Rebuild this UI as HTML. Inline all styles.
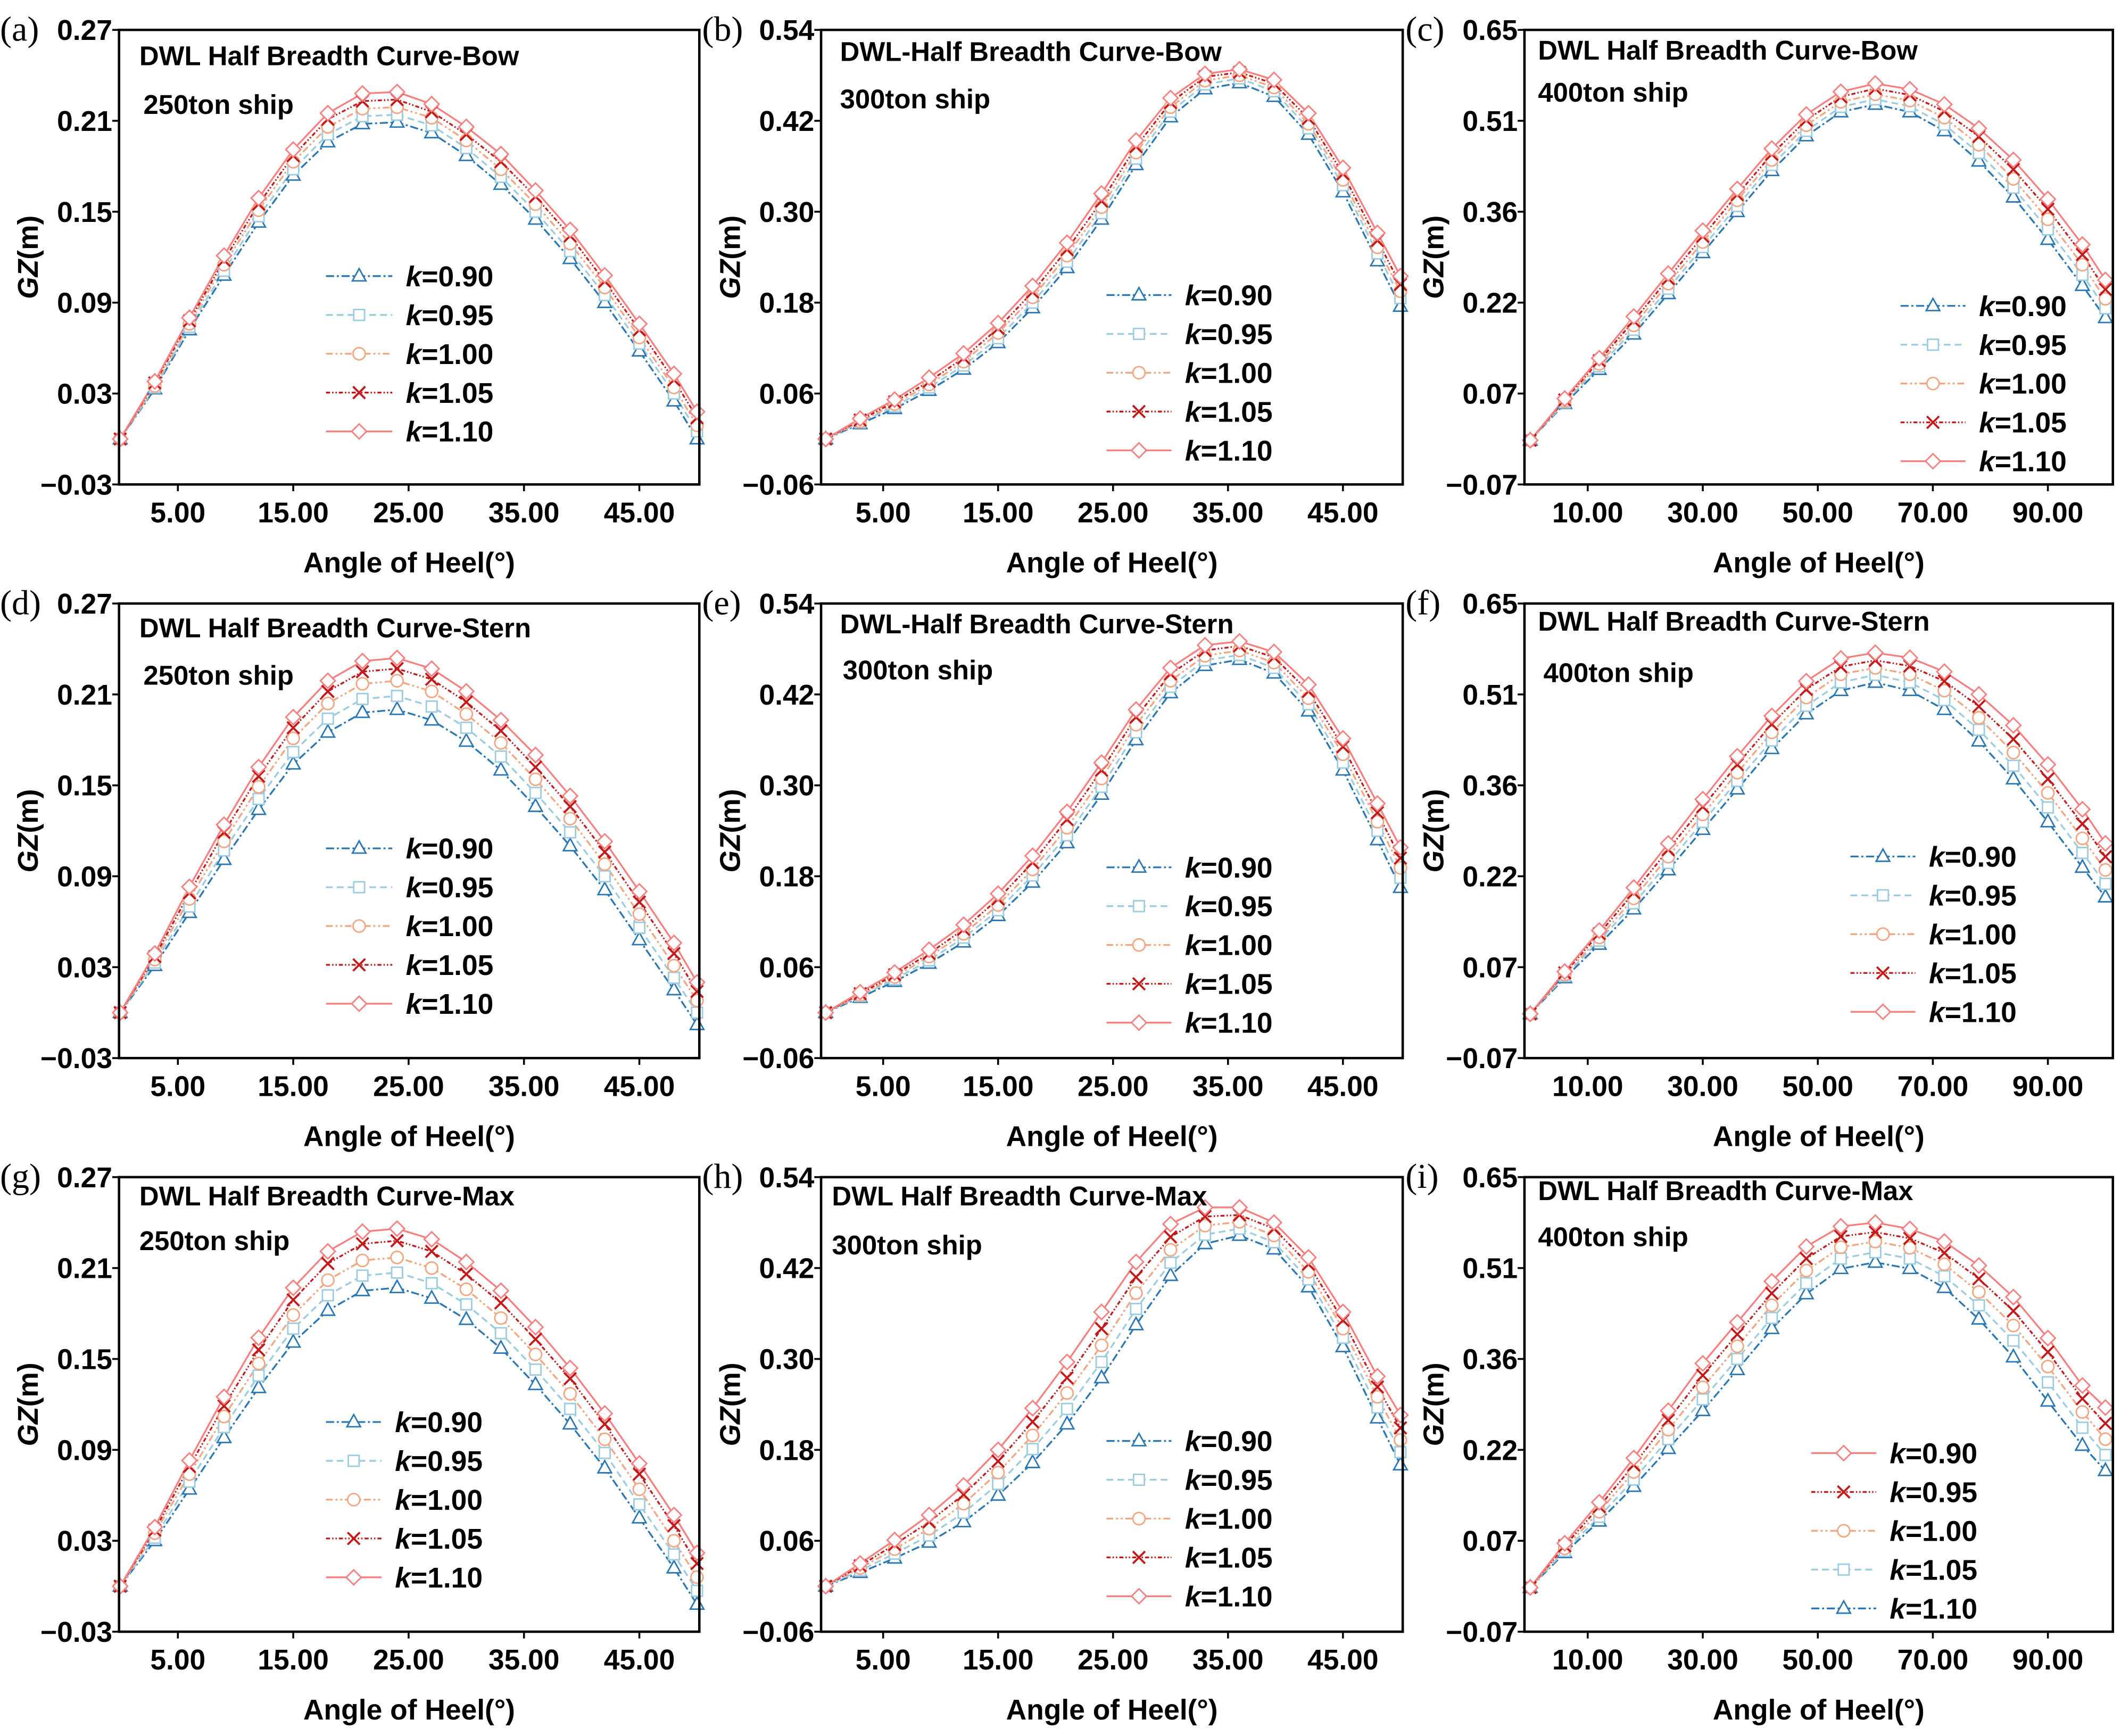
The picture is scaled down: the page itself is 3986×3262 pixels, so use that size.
<!DOCTYPE html>
<html><head><meta charset="utf-8">
<style>
html,body{margin:0;padding:0;background:#fff;}
svg{display:block;}
text{font-family:"Liberation Sans",Arial,sans-serif;font-weight:bold;}
</style></head>
<body>
<svg id="fig" xmlns="http://www.w3.org/2000/svg" width="3986" height="3262" viewBox="0 0 1568 1283"></svg>
<script>
// ---- data ----
const xShort = [0,3,6,9,12,15,18,21,24,27,30,33,36,39,42,45,48,50];
const xLong = [0,6,12,18,24,30,36,42,48,54,60,66,72,78,84,90,96,100];
const kLabels = ["k=0.90","k=0.95","k=1.00","k=1.05","k=1.10"];

const A090=[0,.033,.072,.108,.143,.174,.196,.208,.209,.202,.187,.168,.145,.119,.090,.058,.025,0];
const A095=[0,.034,.074,.111,.147,.178,.201,.213,.214,.207,.192,.173,.150,.124,.095,.063,.030,.005];
const A100=[0,.035,.076,.115,.151,.183,.206,.218,.219,.212,.197,.178,.155,.129,.100,.067,.034,.009];
const A105=[0,.037,.078,.118,.155,.187,.211,.223,.224,.216,.201,.183,.160,.134,.104,.072,.039,.014];
const A110=[0,.038,.080,.121,.159,.191,.215,.228,.229,.221,.206,.188,.164,.138,.108,.076,.043,.018];

const B090=[0,.020,.040,.064,.092,.127,.173,.226,.290,.362,.425,.462,.470,.452,.402,.326,.235,.175];
const B095=[0,.022,.043,.068,.097,.133,.180,.234,.298,.370,.432,.468,.476,.459,.410,.335,.245,.186];
const B100=[0,.023,.046,.072,.102,.140,.187,.242,.306,.378,.438,.473,.480,.464,.416,.342,.253,.195];
const B105=[0,.025,.049,.076,.107,.146,.194,.250,.314,.386,.444,.478,.484,.469,.423,.350,.262,.204];
const B110=[0,.027,.052,.081,.113,.153,.202,.259,.324,.394,.450,.482,.488,.474,.430,.358,.272,.215];

const C090=[0,.058,.112,.168,.232,.297,.362,.427,.482,.520,.532,.520,.490,.442,.385,.318,.245,.194];
const C095=[0,.060,.117,.175,.240,.306,.371,.436,.490,.528,.540,.529,.500,.455,.400,.334,.262,.209];
const C100=[0,.062,.121,.182,.248,.314,.380,.444,.499,.536,.548,.538,.511,.468,.414,.350,.278,.224];
const C105=[0,.064,.126,.189,.256,.323,.389,.453,.507,.544,.557,.547,.521,.481,.429,.366,.294,.239];
const C110=[0,.066,.130,.196,.264,.332,.398,.462,.516,.552,.565,.556,.532,.494,.444,.382,.310,.254];

const D090=[0,.031,.066,.101,.134,.164,.185,.198,.200,.193,.179,.160,.136,.110,.081,.048,.015,-.008];
const D095=[0,.033,.070,.107,.141,.172,.194,.207,.209,.202,.188,.169,.145,.119,.090,.056,.023,0];
const D100=[0,.035,.075,.113,.149,.181,.204,.217,.219,.212,.197,.178,.154,.128,.098,.065,.031,.008];
const D105=[0,.037,.079,.119,.156,.188,.212,.225,.227,.220,.205,.186,.162,.136,.106,.073,.039,.014];
const D110=[0,.039,.083,.124,.162,.195,.219,.232,.234,.227,.212,.193,.170,.143,.113,.080,.046,.020];

const E090=[0,.020,.041,.065,.093,.128,.172,.224,.288,.360,.422,.458,.466,.448,.398,.320,.228,.165];
const E095=[0,.022,.044,.069,.099,.135,.181,.234,.298,.370,.430,.465,.472,.455,.407,.330,.240,.178];
const E100=[0,.023,.047,.074,.104,.142,.189,.244,.309,.380,.438,.471,.478,.462,.415,.341,.252,.191];
const E105=[0,.025,.050,.078,.110,.150,.198,.255,.320,.390,.447,.478,.484,.469,.424,.351,.264,.204];
const E110=[0,.027,.053,.083,.116,.157,.207,.265,.330,.400,.455,.485,.490,.476,.433,.362,.276,.218];

const F090=[0,.057,.110,.166,.228,.292,.356,.420,.475,.512,.525,.512,.482,.432,.372,.304,.232,.185];
const F095=[0,.060,.116,.175,.239,.304,.369,.433,.488,.525,.537,.525,.497,.450,.393,.327,.255,.206];
const F100=[0,.062,.121,.183,.249,.316,.382,.446,.501,.538,.548,.538,.512,.469,.414,.350,.278,.228];
const F105=[0,.065,.127,.192,.260,.328,.395,.459,.514,.550,.560,.551,.527,.487,.435,.372,.301,.249];
const F110=[0,.067,.132,.200,.270,.340,.408,.472,.527,.563,.572,.564,.542,.506,.457,.395,.324,.270];

const G090=[0,.030,.064,.098,.131,.161,.182,.195,.197,.190,.176,.157,.133,.107,.078,.045,.012,-.012];
const G095=[0,.032,.069,.105,.139,.170,.192,.205,.207,.200,.186,.167,.143,.117,.088,.054,.021,-.003];
const G100=[0,.035,.074,.112,.147,.179,.202,.215,.217,.210,.196,.177,.153,.127,.097,.064,.030,.006];
const G105=[0,.037,.079,.119,.156,.189,.213,.226,.228,.221,.206,.187,.163,.137,.107,.074,.040,.015];
const G110=[0,.039,.083,.125,.164,.197,.221,.234,.236,.229,.214,.195,.171,.144,.114,.081,.047,.022];

const H090=[0,.018,.037,.058,.085,.120,.163,.214,.275,.345,.410,.452,.463,.445,.395,.316,.222,.160];
const H095=[0,.021,.043,.067,.097,.135,.181,.234,.296,.366,.427,.464,.472,.454,.405,.328,.236,.177];
const H100=[0,.024,.049,.076,.109,.150,.199,.255,.318,.387,.444,.476,.481,.463,.415,.340,.250,.193];
const H105=[0,.027,.055,.085,.121,.165,.217,.275,.340,.408,.461,.488,.490,.472,.425,.351,.263,.209];
const H110=[0,.030,.061,.094,.133,.180,.235,.296,.362,.428,.478,.500,.500,.480,.434,.362,.277,.226];

const I0=[0,.055,.105,.160,.220,.280,.345,.410,.465,.505,.515,.505,.475,.425,.365,.295,.225,.185];
const I1=[0,.058,.112,.171,.235,.298,.362,.427,.482,.521,.531,.521,.493,.447,.391,.325,.253,.210];
const I2=[0,.062,.120,.183,.250,.317,.382,.447,.502,.539,.548,.538,.512,.468,.415,.350,.278,.235];
const I3=[0,.066,.128,.194,.265,.336,.401,.466,.521,.556,.563,.553,.530,.489,.438,.373,.299,.260];
const I4=[0,.070,.135,.205,.280,.355,.420,.485,.540,.572,.578,.568,.548,.510,.460,.395,.320,.285];

const yTicksA=["−0.03","0.03","0.09","0.15","0.21","0.27"];
const yTicksB=["−0.06","0.06","0.18","0.30","0.42","0.54"];
const yTicksC=["−0.07","0.07","0.22","0.36","0.51","0.65"];
const xTicksAB=[5,15,25,35,45];
const xTicksC=[10,30,50,70,90];

// ---- layout ----
const NS="http://www.w3.org/2000/svg";
const svg=document.getElementById('fig');
const styles=[
 {c:"#2a77b4",d:"6,2,1.5,2",m:"tri"},
 {c:"#9dcbe0",d:"5,3",m:"sq"},
 {c:"#f4a582",d:"5,2,1.5,2,1.5,2",m:"circ"},
 {c:"#c21a1a",d:"3,1.5,1,1.5,1,1.5",m:"x"},
 {c:"#f87f7f",d:"",m:"dia"}];
const cols=[{l:88,r:517,type:"s",xmin:-0.1,xmax:50.2,yt:yTicksA,ymin:-0.03,ymax:0.27,xt:xTicksAB},
 {l:607,r:1037,type:"s",xmin:-0.4,xmax:50.2,yt:yTicksB,ymin:-0.06,ymax:0.54,xt:xTicksAB},
 {l:1127,r:1562,type:"l",xmin:-1,xmax:101.3,yt:yTicksC,ymin:-0.07,ymax:0.65,xt:xTicksC}];
const rows=[{t:22,b:358},{t:446,b:782},{t:870,b:1206}];
const panels=[
 {id:"a",c:0,r:0,s:[A090,A095,A100,A105,A110],t1:"DWL Half Breadth Curve-Bow",t1x:103,t1y:48,t2:"250ton ship",t2x:106,t2y:84,lx:241,lt:300,ly:204},
 {id:"b",c:1,r:0,s:[B090,B095,B100,B105,B110],t1:"DWL-Half Breadth Curve-Bow",t1x:621,t1y:45,t2:"300ton ship",t2x:621,t2y:80,lx:818,lt:876,ly:218},
 {id:"c",c:2,r:0,s:[C090,C095,C100,C105,C110],t1:"DWL Half Breadth Curve-Bow",t1x:1137,t1y:44,t2:"400ton ship",t2x:1137,t2y:75,lx:1405,lt:1463,ly:226},
 {id:"d",c:0,r:1,s:[D090,D095,D100,D105,D110],t1:"DWL Half Breadth Curve-Stern",t1x:103,t1y:471,t2:"250ton ship",t2x:106,t2y:506,lx:241,lt:300,ly:627},
 {id:"e",c:1,r:1,s:[E090,E095,E100,E105,E110],t1:"DWL-Half Breadth Curve-Stern",t1x:621,t1y:468,t2:"300ton ship",t2x:623,t2y:502,lx:818,lt:876,ly:641},
 {id:"f",c:2,r:1,s:[F090,F095,F100,F105,F110],t1:"DWL Half Breadth Curve-Stern",t1x:1137,t1y:466,t2:"400ton ship",t2x:1141,t2y:504,lx:1368,lt:1426,ly:633},
 {id:"g",c:0,r:2,s:[G090,G095,G100,G105,G110],t1:"DWL Half Breadth Curve-Max",t1x:103,t1y:891,t2:"250ton ship",t2x:103,t2y:924,lx:241,lt:292,ly:1051},
 {id:"h",c:1,r:2,s:[H090,H095,H100,H105,H110],t1:"DWL Half Breadth Curve-Max",t1x:615,t1y:891,t2:"300ton ship",t2x:615,t2y:927,lx:818,lt:876,ly:1065},
 {id:"i",c:2,r:2,s:[I0,I1,I2,I3,I4],t1:"DWL Half Breadth Curve-Max",t1x:1137,t1y:887,t2:"400ton ship",t2x:1137,t2y:921,lx:1339,lt:1397,ly:1074,rev:true}];

function mk(tag,attrs,parent){const e=document.createElementNS(NS,tag);for(const k in attrs)e.setAttribute(k,attrs[k]);(parent||svg).appendChild(e);return e;}
function marker(g,type,x,y,c){
 let e;
 if(type==="tri") e=mk("polygon",{points:`${x},${y-5.5} ${x-5},${y+3.5} ${x+5},${y+3.5}`,fill:"#fff",stroke:c,"stroke-width":1.1},g);
 else if(type==="sq") e=mk("rect",{x:x-4,y:y-4,width:8,height:8,fill:"#fff",stroke:c,"stroke-width":1.1},g);
 else if(type==="circ") e=mk("circle",{cx:x,cy:y,r:4.5,fill:"#fff",stroke:c,"stroke-width":1.1},g);
 else if(type==="x") e=mk("path",{d:`M${x-4.5},${y-4.5}L${x+4.5},${y+4.5}M${x-4.5},${y+4.5}L${x+4.5},${y-4.5}`,stroke:c,"stroke-width":1.5,fill:"none"},g);
 else e=mk("polygon",{points:`${x},${y-5.5} ${x+5.5},${y} ${x},${y+5.5} ${x-5.5},${y}`,fill:"#fff",stroke:c,"stroke-width":1.1},g);
 
 
 return e;
}

panels.forEach(p=>{
 const C=cols[p.c],R=rows[p.r];
 const g=mk("g",{});
 
 
 const sx=v=>C.l+(v-C.xmin)/(C.xmax-C.xmin)*(C.r-C.l);
 const sy=v=>R.b-(v-C.ymin)/(C.ymax-C.ymin)*(R.b-R.t);
 const xs=C.type==="s"?xShort:xLong;
 [0,1,2,3,4].forEach(i=>{
  const st=styles[i],vals=p.s[i];
  const pts=vals.map((v,j)=>sx(xs[j]).toFixed(2)+","+sy(v).toFixed(2)).join(" ");
  const ln=mk("polyline",{points:pts,fill:"none",stroke:st.c,"stroke-width":1.3,"stroke-dasharray":st.d},g);
  
  
 });
 [0,1,2,3,4].forEach(i=>{
  const st=styles[i],vals=p.s[i];
  vals.forEach((v,j)=>marker(g,st.m,sx(xs[j]),sy(v),st.c));
 });
 const fr=mk("rect",{x:C.l,y:R.t,width:C.r-C.l,height:R.b-R.t,fill:"none",stroke:"#000","stroke-width":1.8},g);
 
 
 C.yt.forEach((lab,i)=>{
  const y=R.b-i*(R.b-R.t)/(C.yt.length-1);
  const tk=mk("line",{x1:C.l-5,x2:C.l,y1:y,y2:y,stroke:"#000","stroke-width":1.4},g);
  
  
  const t=mk("text",{x:C.l-5,y:y+7.5,"text-anchor":"end","font-size":21},g);
  t.textContent=lab;
  
  
 });
 C.xt.forEach(v=>{
  const x=sx(v);
  const tk=mk("line",{x1:x,x2:x,y1:R.b,y2:R.b+5,stroke:"#000","stroke-width":1.4},g);
  
  
  const t=mk("text",{x:x,y:R.b+28,"text-anchor":"middle","font-size":21},g);
  t.textContent=v.toFixed(2);
  
  
 });
 const xt=mk("text",{x:(C.l+C.r)/2,y:R.b+65,"text-anchor":"middle","font-size":21},g);
 xt.textContent="Angle of Heel(°)";
 
 
 const yx=C.l-60,yy=(R.t+R.b)/2;
 const yt=mk("text",{x:yx,y:yy,"text-anchor":"middle","font-size":21,transform:`rotate(-90 ${yx} ${yy})`},g);
 yt.innerHTML='<tspan font-style="italic">GZ</tspan>(m)';
 
 
 const pl=mk("text",{x:C.l-88,y:R.t+8,"font-size":26,style:"font-family:'Liberation Serif',serif;font-weight:normal"},g);
 pl.textContent="("+p.id+")";
 
 
 const t1=mk("text",{x:p.t1x,y:p.t1y,"font-size":20},g);
 t1.textContent=p.t1;
 
 
 const t2=mk("text",{x:p.t2x,y:p.t2y,"font-size":20},g);
 t2.textContent=p.t2;
 
 
 const lorder=p.rev?[4,3,2,1,0]:[0,1,2,3,4];
 lorder.forEach((si,row)=>{
  const st=styles[si],y=p.ly+row*28.7,x0=p.lx,x1=p.lt-10;
  const lg=mk("g",{},g);
  
  
  mk("line",{x1:x0,x2:x1,y1:y,y2:y,stroke:st.c,"stroke-width":1.3,"stroke-dasharray":st.d},lg);
  marker(lg,st.m,(x0+x1)/2,y,st.c);
  const lt=mk("text",{x:p.lt,y:y+7.5,"font-size":21},lg);
  lt.innerHTML='<tspan font-style="italic">k</tspan>'+kLabels[row].slice(1);
 });
});
</script>
</body></html>
